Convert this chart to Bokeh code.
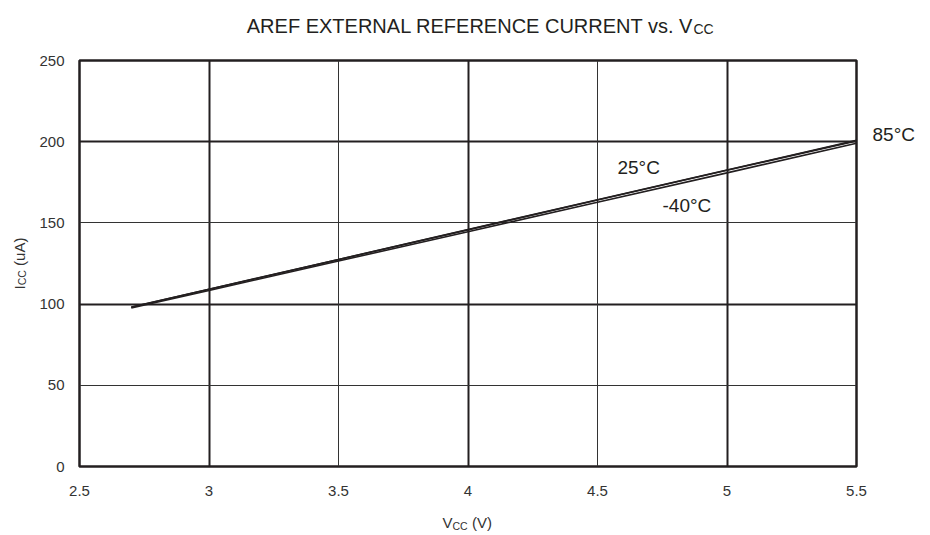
import math
from bokeh.plotting import figure
from bokeh.models import Range1d, FixedTicker, Grid, Label, CustomJSTickFormatter
from bokeh.embed import file_html
from bokeh.resources import INLINE

# ---- data ----
vcc = [2.7, 3.0, 3.5, 4.0, 4.5, 5.0, 5.5]
icc_85 = [98.2, 109.2, 127.5, 145.9, 164.3, 182.6, 200.8]
icc_25 = [98.1, 109.1, 127.4, 145.7, 164.1, 182.4, 200.5]
icc_m40 = [97.6, 108.4, 126.5, 144.6, 162.7, 180.8, 199.0]

x_ticks = [2.5, 3, 3.5, 4, 4.5, 5, 5.5]
y_ticks = [0, 50, 100, 150, 200, 250]
x_major_grid = [3, 4, 5]
x_minor_grid = [3.5, 4.5]
y_major_grid = [100, 200]
y_minor_grid = [50, 150]

FONT = "Liberation Sans"
INK = "#231f20"
GREY = "#333333"

p = figure(frame_width=777, frame_height=406,
           min_border_left=79, min_border_right=74,
           min_border_top=60, min_border_bottom=69,
           x_range=Range1d(2.5, 5.5), y_range=Range1d(0, 250),
           output_backend="svg", toolbar_location=None, title=None)

p.background_fill_color = "white"
p.border_fill_color = "white"
p.outline_line_color = INK
p.outline_line_width = 2.5

# axes
for ax in (p.xaxis, p.yaxis):
    ax.axis_line_color = None
    ax.major_tick_line_color = None
    ax.minor_tick_line_color = None
    ax.major_tick_out = 0
    ax.major_tick_in = 0
    ax.minor_tick_out = 0
    ax.minor_tick_in = 0
    ax.major_label_text_font = FONT
    ax.major_label_text_font_size = "15px"
    ax.major_label_text_color = GREY
    ax.formatter = CustomJSTickFormatter(code="return String(tick);")
p.xaxis.ticker = FixedTicker(ticks=x_ticks)
p.yaxis.ticker = FixedTicker(ticks=y_ticks)
p.xaxis.major_label_standoff = 19
p.yaxis.major_label_standoff = 15

# grids
p.xgrid.ticker = FixedTicker(ticks=x_major_grid)
p.xgrid.grid_line_color = INK
p.xgrid.grid_line_width = 2
p.ygrid.ticker = FixedTicker(ticks=y_major_grid)
p.ygrid.grid_line_color = INK
p.ygrid.grid_line_width = 2
p.add_layout(Grid(dimension=0, ticker=FixedTicker(ticks=x_minor_grid),
                  grid_line_color=GREY, grid_line_width=1))
p.add_layout(Grid(dimension=1, ticker=FixedTicker(ticks=y_minor_grid),
                  grid_line_color=GREY, grid_line_width=1))

# series
for ys in (icc_85, icc_25, icc_m40):
    p.line(vcc, ys, line_color=INK, line_width=1.6)

def lab(x, y, text, size, place="center", align="left", baseline="middle",
        angle=0.0, color=INK):
    lbl = Label(x=x, y=y, text=text, text_font=FONT,
                text_font_size=size, text_color=color,
                text_align=align, text_baseline=baseline, angle=angle)
    if place == "center":
        p.add_layout(lbl)
    else:
        p.add_layout(lbl, place)

# series labels
lab(5.562, 204.7, "85°C", "19px", place="right")
lab(4.577, 184.3, "25°C", "19px")
lab(4.751, 160.7, "-40°C", "19px")

# title with subscript
lab(4.8707, 271.55, "AREF EXTERNAL REFERENCE CURRENT vs. V", "20px", place="above",
    align="right", baseline="alphabetic")
lab(4.8707, 269.7, "CC", "14px", place="above", baseline="alphabetic")

# x axis label with subscript
lab(3.9015, -34.6, "V", "15px", place="below", baseline="alphabetic", color=GREY)
lab(3.9400, -36.4, "CC", "10.5px", place="below", baseline="alphabetic", color=GREY)
lab(4.0151, -34.6, "(V)", "15px", place="above", baseline="alphabetic", color=GREY)

# y axis label with subscript (rotated)
a = math.pi / 2
lab(2.2683, 108.99, "I", "15px", place="left", baseline="alphabetic", angle=a, color=GREY)
lab(2.2799, 111.58, "CC", "10.5px", place="left", baseline="alphabetic", angle=a, color=GREY)
lab(2.2683, 123.52, "(uA)", "15px", place="right", baseline="alphabetic", angle=a, color=GREY)

open("out.html", "w").write(file_html(p, INLINE))
